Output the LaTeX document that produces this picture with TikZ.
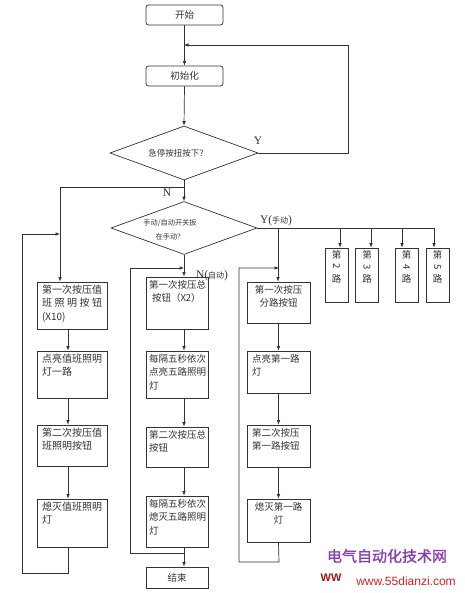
\documentclass[tikz,border=0pt]{standalone}
\usepackage{fontspec}
\setmainfont{Liberation Serif}
\newfontfamily\cjk{Noto Sans CJK SC}
\newfontfamily\wmfont[FakeBold=1.5]{Noto Sans CJK SC}
\newfontfamily\lsans{Liberation Sans}
\usetikzlibrary{shapes.geometric,arrows.meta}
\definecolor{ln}{HTML}{333333}
\definecolor{wmpurple}{HTML}{8A3FB0}
\definecolor{wmred}{HTML}{D42020}
\definecolor{wmdark}{HTML}{A01818}
\newcommand{\bxt}[4]{\parbox[c][#2pt][t]{#1pt}{#3#4}}
\newcommand{\rdig}[1]{\rotatebox[origin=c]{-90}{#1}}
\begin{document}
\begin{tikzpicture}[x=1pt,y=-1pt,
  line/.style={draw=ln, line width=0.7pt},
  arr/.style={line, -{Latex[length=4.5pt,width=3.6pt]}},
  pbox/.style={draw=ln, line width=0.7pt, rectangle, inner sep=0pt, text=ln},
  rbox/.style={pbox, rounded corners=2.5pt},
  dia/.style={draw=ln, line width=0.7pt, diamond, inner sep=0pt},
  ctext/.style={font=\cjk\fontsize{9.5}{13.5}\selectfont},
  lbl/.style={inner sep=0pt, text=ln, font=\fontsize{11.5}{12}\selectfont},
  rt/.style={pbox, minimum width=23pt, minimum height=54pt, font=\cjk\fontsize{9.5}{12}\selectfont}
]
\useasboundingbox (0,0) rectangle (464,593);

% top
\node[rbox, minimum width=77pt, minimum height=20pt, ctext] (start) at (184.5,15) {开始};
\node[rbox, minimum width=77pt, minimum height=20pt, ctext] (init) at (184.5,76) {初始化};
\node[dia, minimum width=148pt, minimum height=54pt] (d1) at (184,153) {};
\node[inner sep=0pt, text=ln, font=\cjk\fontsize{8.5}{10}\selectfont] (t1) at (178,153) {急停按扭按下？};
\node[dia, minimum width=146pt, minimum height=53pt] (d2) at (184,228) {};
\node[inner sep=0pt, text=ln, align=center, font=\cjk\fontsize{7.2}{14}\selectfont] (t2) at (170,230) {手动/自动开关扳\\在手动？};

% column 1
\node[pbox, minimum width=70pt, minimum height=47pt, font=\cjk\fontsize{10}{13.5}\selectfont] (c1a) at (72,305.5)
  {\bxt{60}{41}{\raggedright}{第一次按压值\\\makebox[60pt][s]{班\hfil 照\hfil 明\hfil 按\hfil 钮}\\(X10)}};
\node[pbox, minimum width=70pt, minimum height=47pt, font=\cjk\fontsize{10}{13.5}\selectfont] (c1b) at (72,374.5)
  {\bxt{60}{41}{\raggedright}{点亮值班照明\\灯一路}};
\node[pbox, minimum width=70pt, minimum height=41pt, font=\cjk\fontsize{10}{13.5}\selectfont] (c1c) at (72,445.5)
  {\bxt{60}{35}{\raggedright}{第二次按压值\\班照明按钮}};
\node[pbox, minimum width=70pt, minimum height=48pt, font=\cjk\fontsize{10}{13.5}\selectfont] (c1d) at (72,523)
  {\bxt{60}{42}{\raggedright}{熄灭值班照明\\灯}};

% column 2
\node[pbox, minimum width=62pt, minimum height=52pt, ctext] (c2a) at (177,303)
  {\bxt{56}{46}{\raggedright}{第一次按压总\\\hspace*{3pt}按钮（X2）}};
\node[pbox, minimum width=62pt, minimum height=47pt, ctext] (c2b) at (177,374.5)
  {\bxt{56}{41}{\raggedright}{每隔五秒依次\\点亮五路照明\\灯}};
\node[pbox, minimum width=62pt, minimum height=40pt, ctext] (c2c) at (177,447)
  {\bxt{56}{34}{\raggedright}{第二次按压总\\按钮}};
\node[pbox, minimum width=62pt, minimum height=51pt, ctext] (c2d) at (177,521.5)
  {\bxt{56}{45}{\raggedright}{每隔五秒依次\\熄灭五路照明\\灯}};
\node[pbox, minimum width=62pt, minimum height=21pt, ctext] (end) at (177,577.5) {结束};

% column 3
\node[pbox, minimum width=63pt, minimum height=41pt, ctext] (c3a) at (278.5,302.5)
  {\bxt{53}{35}{\centering}{第一次按压\\分路按钮}};
\node[pbox, minimum width=63pt, minimum height=42pt, ctext] (c3b) at (278.5,372)
  {\bxt{53}{36}{\raggedright}{点亮第一路\\灯}};
\node[pbox, minimum width=63pt, minimum height=42pt, ctext] (c3c) at (278.5,446)
  {\bxt{53}{36}{\raggedright}{第二次按压\\第一路按钮}};
\node[pbox, minimum width=63pt, minimum height=43pt, ctext] (c3d) at (278.5,520.5)
  {\bxt{53}{37}{\centering}{熄灭第一路\\灯}};

% route boxes
\node[rt] (r2) at (336.5,275) {\bxt{20}{50}{\centering}{第\\\rdig{2}\\路}};
\node[rt] (r3) at (367,275) {\bxt{20}{50}{\centering}{第\\\rdig{3}\\路}};
\node[rt] (r4) at (406.5,275) {\bxt{20}{50}{\centering}{第\\\rdig{4}\\路}};
\node[rt] (r5) at (437.5,275) {\bxt{20}{50}{\centering}{第\\\rdig{5}\\路}};

% labels
\node[lbl] (ly) at (258,141) {Y};
\node[lbl] (ln) at (167,193) {N};
\node[lbl] (lym) at (276,221) {Y({\cjk\fontsize{8}{10}\selectfont 手动})};
\node[lbl] (lna) at (212,276) {N({\cjk\fontsize{8}{10}\selectfont 自动})};

% coordinates
\coordinate (j1) at (184,45);
\coordinate (l1) at (348,153);
\coordinate (l2) at (348,45);
\coordinate (b1) at (184,187);
\coordinate (b2) at (60,187);
\coordinate (h1) at (278,228);
\coordinate (h2) at (340,228);
\coordinate (h3) at (371,228);
\coordinate (h4) at (402,228);
\coordinate (h5) at (434,228);
\coordinate (lp1a) at (68,573);
\coordinate (lp1b) at (22,573);
\coordinate (lp1c) at (22,234);
\coordinate (lp1d) at (60,234);
\coordinate (lp2a) at (184,553);
\coordinate (lp2b) at (130,553);
\coordinate (lp2c) at (130,268);
\coordinate (lp2d) at (184,268);
\coordinate (lp3a) at (279,562);
\coordinate (lp3b) at (239,562);
\coordinate (lp3c) at (239,268);
\coordinate (lp3d) at (279,268);

% connectors: top
\draw[arr] (start.south) -- (init.north);
\draw[arr] (init.south) -- (d1.north);
\draw[arr] (d1.east) -- (l1) -- (l2) -- (j1);
\draw[arr] (d1.south) -- (d2.north);
\draw[arr] (b1) -- (b2) -- (b2 |- c1a.north);
\draw[line] (d2.east) -- (h5);
\draw[arr] (h1) -- (h1 |- c3a.north);
\draw[arr] (h2) -- (h2 |- r2.north);
\draw[arr] (h3) -- (h3 |- r3.north);
\draw[arr] (h4) -- (h4 |- r4.north);
\draw[arr] (h5) -- (h5 |- r5.north);
\draw[arr] (d2.south) -- (d2.south |- c2a.north);

% column 1
\draw[arr] ([xshift=-4pt]c1a.south) -- ([xshift=-4pt]c1b.north);
\draw[arr] ([xshift=-4pt]c1b.south) -- ([xshift=-4pt]c1c.north);
\draw[arr] ([xshift=-4pt]c1c.south) -- ([xshift=-4pt]c1d.north);
\draw[arr] ([xshift=-4pt]c1d.south) -- (lp1a) -- (lp1b) -- (lp1c) -- (lp1d);

% column 2
\draw[arr] ([xshift=7pt]c2a.south) -- ([xshift=7pt]c2b.north);
\draw[arr] ([xshift=7pt]c2b.south) -- ([xshift=7pt]c2c.north);
\draw[arr] ([xshift=7pt]c2c.south) -- ([xshift=7pt]c2d.north);
\draw[arr] ([xshift=7pt]c2d.south) -- ([xshift=7pt]end.north);
\draw[arr] (lp2a) -- (lp2b) -- (lp2c) -- (lp2d);

% column 3
\draw[arr] (c3a.south) -- (c3b.north);
\draw[arr] (c3b.south) -- (c3c.north);
\draw[arr] (c3c.south) -- (c3d.north);
\draw[arr] (c3d.south) -- (lp3a) -- (lp3b) -- (lp3c) -- (lp3d);

% watermark
\node[inner sep=0pt, text=wmpurple, font=\wmfont\fontsize{15}{16}\selectfont] (wm1) at (387,556) {电气自动化技术网};
\node[inner sep=0pt, text=wmred, font=\lsans\fontsize{12}{13}\selectfont] (wm2) at (406,581) {www.55dianzi.com};
\node[inner sep=0pt, text=wmdark, font=\lsans\bfseries\fontsize{11}{12}\selectfont] (wm3) at (331,578) {WW};
\end{tikzpicture}
\end{document}
